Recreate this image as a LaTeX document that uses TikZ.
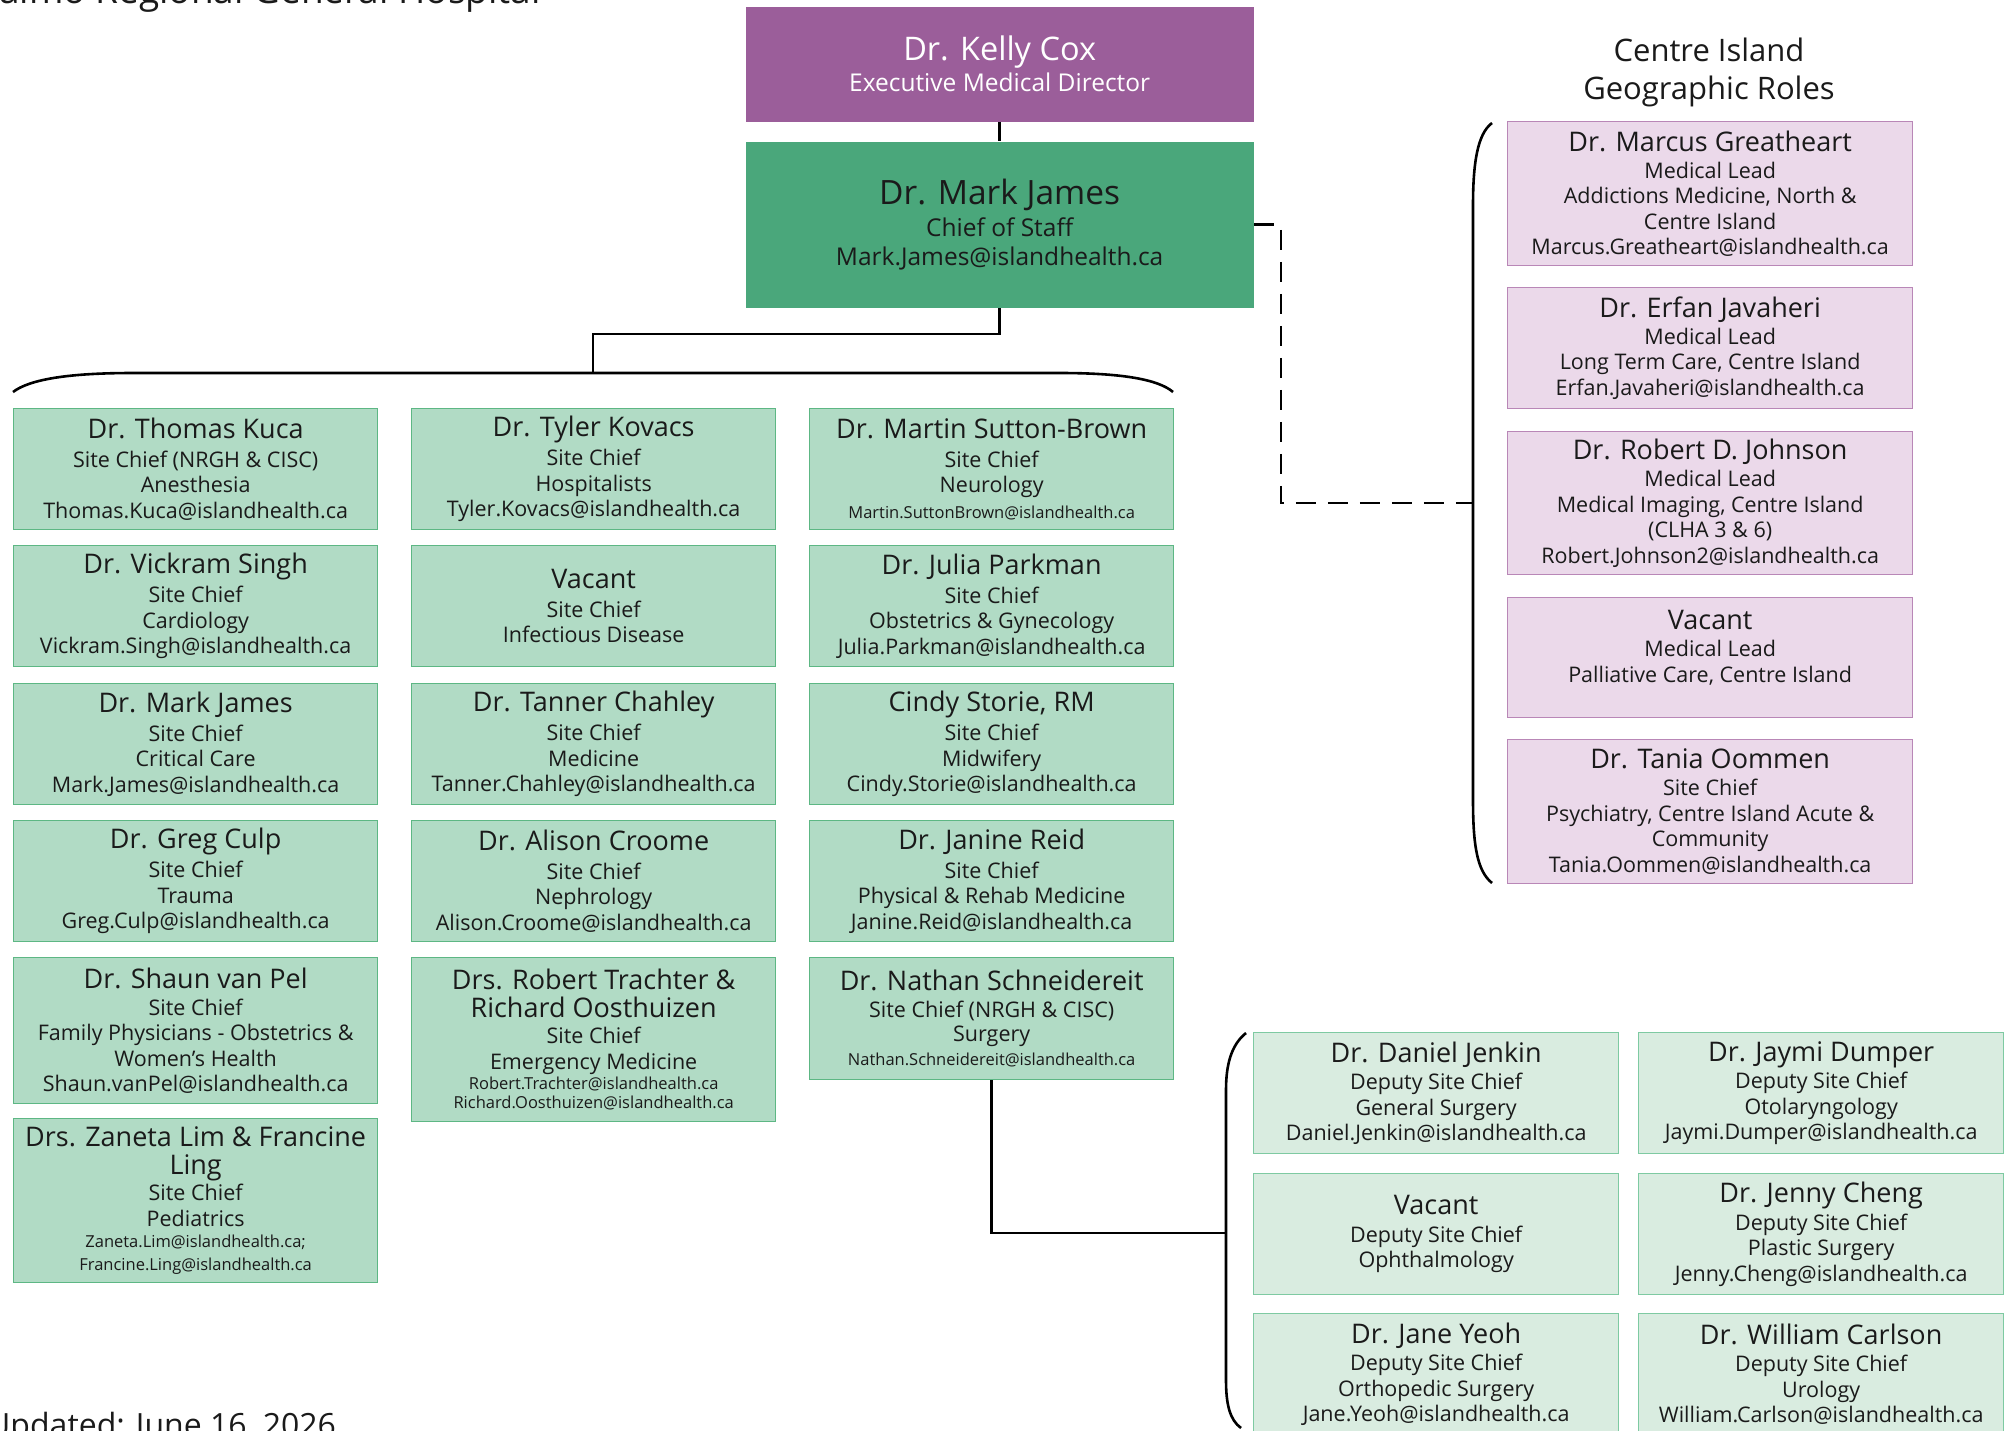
\documentclass[tikz,border=0pt]{standalone}
\usepackage{fontspec}
\setmainfont{Open Sans}
\definecolor{kpurple}{HTML}{9B5E9A}
\definecolor{cgreen}{HTML}{4AA77B}
\definecolor{gfill}{HTML}{B1DBC5}
\definecolor{gline}{HTML}{5DB784}
\definecolor{dfill}{HTML}{D9ECE0}
\definecolor{dline}{HTML}{7ECAA2}
\definecolor{pfill}{HTML}{EBD9EA}
\definecolor{pline}{HTML}{B987B7}
\definecolor{ink}{HTML}{1A1A1A}
\newcommand\nmline[1]{{\fontsize{27}{30}\selectfont #1}}
\newcommand\smline[1]{{\fontsize{16.5}{20}\selectfont #1}}
\tikzset{
  basebox/.style={anchor=north west, inner sep=0pt, align=center, line width=1.3pt,
    text=ink, font=\fontsize{21.5}{25.5}\selectfont},
  gbox/.style={basebox, fill=gfill, draw=gline, minimum width=364pt, minimum height=121pt},
  dbox/.style={basebox, fill=dfill, draw=dline, minimum width=365pt, minimum height=121pt},
  pbox/.style={basebox, fill=pfill, draw=pline, minimum width=405pt},
  conn/.style={line width=2.6pt, black},
  dashconn/.style={conn, dash pattern=on 20pt off 12pt},
  plain/.style={inner sep=0pt, text=ink},
}
\begin{document}
\begin{tikzpicture}[x=1pt,y=-1pt]
\useasboundingbox (0,0) rectangle (2012,1430);

% headings
\node[plain, anchor=base east, font=\fontsize{37}{44}\selectfont] (title) at (541,3) {Nanaimo Regional General Hospital};
\node[plain, anchor=base west, font=\fontsize{32}{38}\selectfont] (updated) at (-13,1436) {Updated: June 16, 2026};
\node[plain, align=center, font=\fontsize{31}{38}\selectfont] (cititle) at (1709,72) {Centre Island\\Geographic Roles};

% top
\node[basebox, fill=kpurple, minimum width=508pt, minimum height=115pt, text=white,
  font=\fontsize{24.5}{31}\selectfont] (cox) at (745,6)
  {{\fontsize{32.5}{34}\selectfont Dr. Kelly Cox}\\Executive Medical Director};
\node[basebox, fill=cgreen, minimum width=508pt, minimum height=166pt,
  font=\fontsize{24.5}{29}\selectfont] (chief) at (745,141)
  {{\fontsize{33.5}{36}\selectfont Dr. Mark James}\\[3pt]Chief of Staff\\Mark.James@islandhealth.ca};

% column 1
\node[gbox] (kuca) at (13,408) {\nmline{Dr. Thomas Kuca}\\[3.5pt]Site Chief (NRGH \& CISC)\\Anesthesia\\Thomas.Kuca@islandhealth.ca};
\node[gbox] (singh) at (13,545) {\nmline{Dr. Vickram Singh}\\[3.5pt]Site Chief\\Cardiology\\Vickram.Singh@islandhealth.ca};
\node[gbox] (jamesc) at (13,683) {\nmline{Dr. Mark James}\\[3.5pt]Site Chief\\Critical Care\\Mark.James@islandhealth.ca};
\node[gbox] (culp) at (13,820) {\nmline{Dr. Greg Culp}\\[3.5pt]Site Chief\\Trauma\\Greg.Culp@islandhealth.ca};
\node[gbox, minimum height=146pt] (vanpel) at (13,957) {\nmline{Dr. Shaun van Pel}\\[1.5pt]Site Chief\\Family Physicians - Obstetrics \&\\Women’s Health\\Shaun.vanPel@islandhealth.ca};
\node[gbox, minimum height=164pt] (limling) at (13,1118) {\nmline{Drs. Zaneta Lim \& Francine}\\[2pt]\nmline{Ling}\\[1pt]Site Chief\\Pediatrics\\[-4.5pt]\smline{Zaneta.Lim@islandhealth.ca;}\\[-2pt]\smline{Francine.Ling@islandhealth.ca}};

% column 2
\node[gbox] (kovacs) at (411,408) {\nmline{Dr. Tyler Kovacs}\\[3.5pt]Site Chief\\Hospitalists\\Tyler.Kovacs@islandhealth.ca};
\node[gbox] (vacid) at (411,545) {\nmline{Vacant}\\[3.5pt]Site Chief\\Infectious Disease};
\node[gbox] (chahley) at (411,683) {\nmline{Dr. Tanner Chahley}\\[3.5pt]Site Chief\\Medicine\\Tanner.Chahley@islandhealth.ca};
\node[gbox] (croome) at (411,820) {\nmline{Dr. Alison Croome}\\[3.5pt]Site Chief\\Nephrology\\Alison.Croome@islandhealth.ca};
\node[gbox, minimum height=164pt] (trachter) at (411,957) {\nmline{Drs. Robert Trachter \&}\\[3pt]\nmline{Richard Oosthuizen}\\[0.5pt]Site Chief\\Emergency Medicine\\[-5.5pt]\smline{Robert.Trachter@islandhealth.ca}\\[-6pt]\smline{Richard.Oosthuizen@islandhealth.ca}};

% column 3
\node[gbox] (sutton) at (809,408) {\nmline{Dr. Martin Sutton-Brown}\\[3.5pt]Site Chief\\Neurology\\\smline{Martin.SuttonBrown@islandhealth.ca}};
\node[gbox] (parkman) at (809,545) {\nmline{Dr. Julia Parkman}\\[3.5pt]Site Chief\\Obstetrics \& Gynecology\\Julia.Parkman@islandhealth.ca};
\node[gbox] (storie) at (809,683) {\nmline{Cindy Storie, RM}\\[3.5pt]Site Chief\\Midwifery\\Cindy.Storie@islandhealth.ca};
\node[gbox] (reid) at (809,820) {\nmline{Dr. Janine Reid}\\[3.5pt]Site Chief\\Physical \& Rehab Medicine\\Janine.Reid@islandhealth.ca};
\node[gbox, minimum height=122pt] (nathan) at (809,957) {\nmline{Dr. Nathan Schneidereit}\\[2pt]Site Chief (NRGH \& CISC)\\[-1.5pt]Surgery\\[-1.5pt]\smline{Nathan.Schneidereit@islandhealth.ca}};

% Centre Island geographic roles
\node[pbox, minimum height=144pt] (greatheart) at (1507,121) {\nmline{Dr. Marcus Greatheart}\\[1.5pt]Medical Lead\\Addictions Medicine, North \&\\Centre Island\\Marcus.Greatheart@islandhealth.ca};
\node[pbox, minimum height=121pt] (javaheri) at (1507,287) {\nmline{Dr. Erfan Javaheri}\\[1.5pt]Medical Lead\\Long Term Care, Centre Island\\Erfan.Javaheri@islandhealth.ca};
\node[pbox, minimum height=143pt] (johnson) at (1507,431) {\nmline{Dr. Robert D. Johnson}\\[1.5pt]Medical Lead\\Medical Imaging, Centre Island\\(CLHA 3 \& 6)\\Robert.Johnson2@islandhealth.ca};
\node[pbox, minimum height=120pt] (vacpal) at (1507,597) {\nmline{Vacant}\\[1.5pt]Medical Lead\\Palliative Care, Centre Island\\[-3pt]\mbox{}};
\node[pbox, minimum height=144pt] (oommen) at (1507,739) {\nmline{Dr. Tania Oommen}\\[1.5pt]Site Chief\\Psychiatry, Centre Island Acute \&\\Community\\Tania.Oommen@islandhealth.ca};

% surgery deputies
\node[dbox] (jenkin) at (1253,1032) {\nmline{Dr. Daniel Jenkin}\\[2pt]Deputy Site Chief\\General Surgery\\Daniel.Jenkin@islandhealth.ca};
\node[dbox] (dumper) at (1638,1032) {\nmline{Dr. Jaymi Dumper}\\[2pt]Deputy Site Chief\\Otolaryngology\\Jaymi.Dumper@islandhealth.ca};
\node[dbox] (vacoph) at (1253,1173) {\nmline{Vacant}\\[2pt]Deputy Site Chief\\Ophthalmology};
\node[dbox] (cheng) at (1638,1173) {\nmline{Dr. Jenny Cheng}\\[2pt]Deputy Site Chief\\Plastic Surgery\\Jenny.Cheng@islandhealth.ca};
\node[dbox] (yeoh) at (1253,1313) {\nmline{Dr. Jane Yeoh}\\[2pt]Deputy Site Chief\\Orthopedic Surgery\\Jane.Yeoh@islandhealth.ca};
\node[dbox] (carlson) at (1638,1313) {\nmline{Dr. William Carlson}\\[2pt]Deputy Site Chief\\Urology\\William.Carlson@islandhealth.ca};

% coordinates for connectors
\coordinate (elbow) at (593,334);
\coordinate (brtop) at (593,373);
\coordinate (brl) at (13,392);
\coordinate (brr) at (1173,392);
\coordinate (dcx) at (1281,503);
\coordinate (dj) at (1473,503);
\coordinate (rbt) at (1492,123);
\coordinate (rbb) at (1492,883);
\coordinate (dbj) at (1226,1233);
\coordinate (dbt) at (1246,1033);
\coordinate (dbb) at (1241,1428);

% connectors
\draw[conn] (cox.south) -- (chief.north);
\draw[conn] (chief.south) |- (elbow) -- (brtop);
\draw[conn] (brl) .. controls (30,379) and (70,373) .. (133,373) -- (brtop) -- (1060,373) .. controls (1120,373) and (1158,379) .. (brr);
\draw[dashconn] (chief.east) -| (dcx) -- (dj);
\draw[conn] (rbt) .. controls (1477,134) and (1473,165) .. (1473,205) -- (dj) -- (1473,800) .. controls (1473,845) and (1477,871) .. (rbb);
\draw[conn] (nathan.south) |- (dbj);
\draw[conn] (dbt) .. controls (1231,1045) and (1226,1065) .. (1226,1090) -- (dbj) -- (1226,1380) .. controls (1226,1405) and (1230,1420) .. (dbb);
\end{tikzpicture}
\end{document}
